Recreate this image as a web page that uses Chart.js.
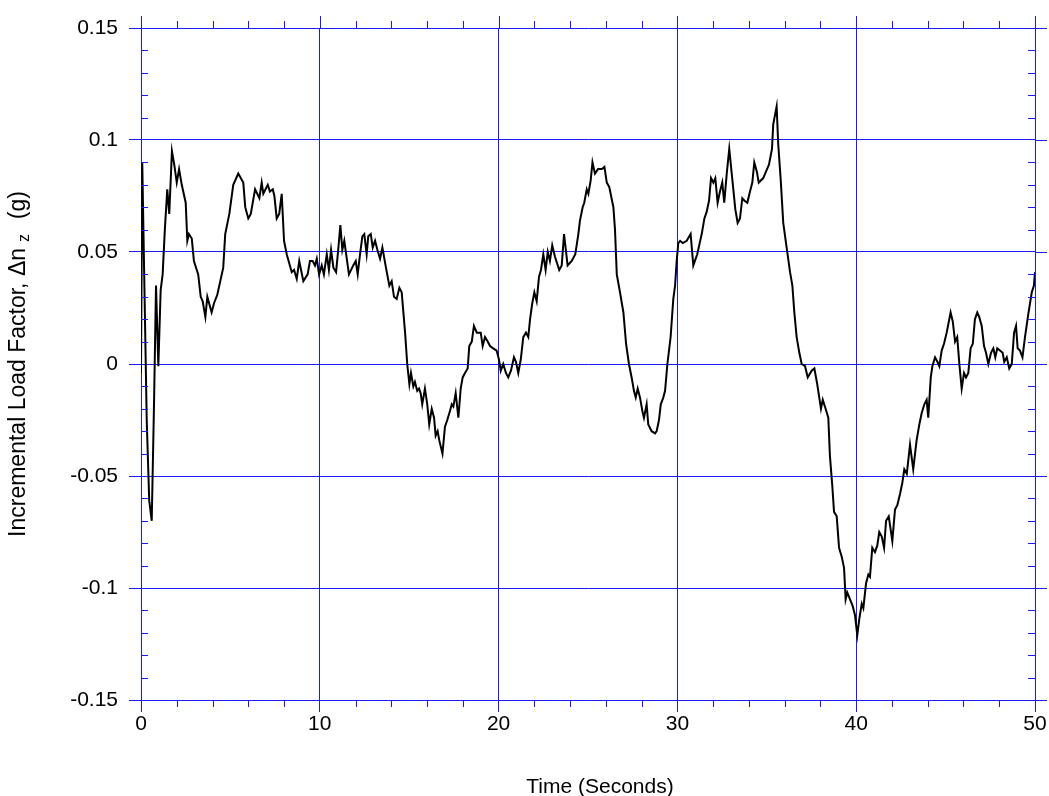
<!DOCTYPE html>
<html>
<head>
<meta charset="utf-8">
<title>Incremental Load Factor vs Time</title>
<script src="https://cdn.jsdelivr.net/npm/chart.js@4.4.1/dist/chart.umd.min.js"></script>
<style>
  html, body { margin: 0; padding: 0; background: #fff; }
  #wrap { width: 1049px; height: 796px; }
</style>
</head>
<body>
<div id="wrap"><canvas id="chart" width="1049" height="796"></canvas></div>
<script>
// Time samples (s) and incremental load factor (g)
const times = [
  0.00, 0.07, 0.32, 0.46, 0.60, 0.73, 0.84, 0.97, 1.10, 1.21, 1.34, 1.47, 1.58, 1.73, 1.86, 2.00,
  2.13, 2.28, 2.50, 2.59, 2.68, 2.84, 2.96, 3.20, 3.34, 3.45, 3.60, 3.71, 3.95, 4.08, 4.27, 4.60,
  4.71, 4.94, 5.16, 5.44, 5.72, 5.83, 6.00, 6.14, 6.38, 6.62, 6.75, 6.84, 7.09, 7.21, 7.37, 7.46,
  7.59, 7.73, 7.87, 8.00, 8.15, 8.29, 8.43, 8.56, 8.71, 8.85, 9.08, 9.32, 9.45, 9.60, 9.73, 9.83,
  9.96, 10.11, 10.23, 10.39, 10.51, 10.63, 10.76, 10.91, 11.03, 11.15, 11.26, 11.37, 11.63, 11.87,
  12.01, 12.12, 12.25, 12.38, 12.49, 12.62, 12.71, 12.85, 12.96, 13.09, 13.22, 13.37, 13.50, 13.70,
  13.89, 14.02, 14.15, 14.30, 14.45, 14.58, 14.77, 14.89, 15.01, 15.10, 15.23, 15.32, 15.45, 15.55,
  15.64, 15.73, 15.88, 16.01, 16.12, 16.26, 16.39, 16.48, 16.59, 16.68, 16.86, 17.00, 17.13, 17.28,
  17.38, 17.47, 17.60, 17.75, 17.88, 17.99, 18.12, 18.27, 18.36, 18.50, 18.62, 18.78, 18.90, 19.00,
  19.11, 19.24, 19.39, 19.52, 19.70, 19.89, 20.02, 20.12, 20.26, 20.41, 20.54, 20.69, 20.86, 20.97,
  21.10, 21.24, 21.38, 21.53, 21.66, 21.76, 21.88, 22.00, 22.13, 22.26, 22.37, 22.50, 22.63, 22.75,
  22.87, 23.00, 23.15, 23.39, 23.53, 23.66, 23.86, 24.09, 24.29, 24.46, 24.55, 24.70, 24.79, 24.93,
  25.02, 25.15, 25.25, 25.39, 25.56, 25.78, 25.92, 26.05, 26.19, 26.42, 26.51, 26.61, 26.79, 26.98,
  27.13, 27.29, 27.44, 27.57, 27.67, 27.78, 27.91, 28.04, 28.13, 28.28, 28.37, 28.56, 28.75, 28.84,
  28.97, 29.07, 29.21, 29.31, 29.44, 29.62, 29.77, 29.87, 29.96, 30.05, 30.15, 30.30, 30.52, 30.74,
  30.89, 31.11, 31.36, 31.51, 31.64, 31.77, 31.88, 32.01, 32.12, 32.25, 32.38, 32.51, 32.62, 32.76,
  32.90, 33.09, 33.24, 33.37, 33.50, 33.63, 33.74, 33.91, 34.06, 34.19, 34.30, 34.44, 34.55, 34.80,
  34.96, 35.12, 35.29, 35.36, 35.55, 35.64, 35.78, 35.92, 36.11, 36.30, 36.43, 36.54, 36.67, 36.82,
  36.95, 37.14, 37.29, 37.51, 37.66, 37.82, 38.03, 38.13, 38.29, 38.44, 38.53, 38.66, 38.76, 38.91,
  39.04, 39.19, 39.32, 39.41, 39.50, 39.65, 39.80, 39.93, 40.06, 40.17, 40.31, 40.40, 40.55, 40.68,
  40.77, 40.90, 41.05, 41.18, 41.29, 41.43, 41.56, 41.67, 41.82, 42.02, 42.17, 42.30, 42.45, 42.58,
  42.69, 42.83, 43.01, 43.19, 43.38, 43.53, 43.66, 43.81, 43.94, 44.03, 44.17, 44.26, 44.41, 44.54,
  44.65, 44.78, 44.91, 45.06, 45.28, 45.40, 45.53, 45.65, 45.77, 45.90, 46.03, 46.14, 46.27, 46.40,
  46.52, 46.64, 46.77, 46.88, 47.02, 47.15, 47.26, 47.39, 47.54, 47.67, 47.78, 47.89, 48.04, 48.19,
  48.28, 48.42, 48.56, 48.70, 48.83, 48.94, 49.03, 49.16, 49.30, 49.44, 49.62, 49.82, 49.94, 50.00
];

const loadFactor = [
  -0.004, 0.090, -0.025, -0.061, -0.070, -0.017, 0.035, -0.001, 0.033, 0.040, 0.061, 0.078, 0.067, 0.095, 0.089, 0.081,
  0.087, 0.080, 0.072, 0.055, 0.058, 0.056, 0.046, 0.040, 0.030, 0.028, 0.021, 0.030, 0.023, 0.027, 0.031, 0.043,
  0.058, 0.067, 0.080, 0.085, 0.081, 0.070, 0.065, 0.067, 0.078, 0.074, 0.081, 0.076, 0.080, 0.077, 0.078, 0.075,
  0.065, 0.067, 0.076, 0.055, 0.049, 0.045, 0.041, 0.042, 0.038, 0.046, 0.037, 0.040, 0.046, 0.046, 0.044, 0.047,
  0.040, 0.044, 0.040, 0.049, 0.042, 0.051, 0.043, 0.041, 0.051, 0.062, 0.051, 0.055, 0.040, 0.044,
  0.046, 0.040, 0.049, 0.057, 0.058, 0.049, 0.057, 0.058, 0.052, 0.055, 0.051, 0.047, 0.052, 0.043,
  0.035, 0.037, 0.030, 0.029, 0.034, 0.032, 0.014, 0.000, -0.009, -0.004, -0.010, -0.008, -0.012, -0.011,
  -0.013, -0.018, -0.011, -0.018, -0.027, -0.020, -0.024, -0.032, -0.030, -0.034, -0.040, -0.028, -0.025, -0.021,
  -0.018, -0.019, -0.013, -0.024, -0.011, -0.006, -0.004, -0.002, 0.008, 0.010, 0.017, 0.014, 0.014, 0.014,
  0.008, 0.012, 0.010, 0.008, 0.007, 0.006, 0.002, -0.003, 0.000, -0.004, -0.006, -0.003, 0.003, 0.001,
  -0.004, 0.002, 0.012, 0.014, 0.012, 0.020, 0.027, 0.032, 0.028, 0.039, 0.042, 0.049, 0.042, 0.050,
  0.046, 0.053, 0.048, 0.042, 0.044, 0.058, 0.044, 0.046, 0.049, 0.058, 0.064, 0.070, 0.072, 0.078,
  0.076, 0.082, 0.090, 0.085, 0.087, 0.087, 0.088, 0.081, 0.079, 0.070, 0.060, 0.040, 0.032, 0.023,
  0.009, 0.000, -0.006, -0.012, -0.015, -0.011, -0.015, -0.021, -0.024, -0.018, -0.027, -0.030, -0.031, -0.030,
  -0.025, -0.018, -0.015, -0.012, 0.000, 0.012, 0.029, 0.035, 0.046, 0.054, 0.055, 0.054, 0.055, 0.058,
  0.044, 0.049, 0.058, 0.065, 0.068, 0.073, 0.083, 0.081, 0.083, 0.072, 0.077, 0.081, 0.072, 0.085,
  0.096, 0.081, 0.069, 0.063, 0.065, 0.074, 0.073, 0.072, 0.077, 0.081, 0.090, 0.086, 0.081, 0.083,
  0.086, 0.089, 0.096, 0.107, 0.115, 0.098, 0.082, 0.063, 0.052, 0.041, 0.035, 0.023, 0.012, 0.005,
  0.000, -0.001, -0.006, -0.003, -0.002, -0.009, -0.020, -0.016, -0.020, -0.024, -0.041, -0.054, -0.066, -0.068,
  -0.082, -0.086, -0.091, -0.105, -0.102, -0.105, -0.108, -0.112, -0.121, -0.114, -0.107, -0.109, -0.098, -0.094,
  -0.095, -0.082, -0.084, -0.081, -0.075, -0.077, -0.082, -0.070, -0.068, -0.079, -0.065, -0.063, -0.058, -0.053,
  -0.047, -0.049, -0.036, -0.047, -0.034, -0.027, -0.022, -0.018, -0.016, -0.024, -0.006, -0.001, 0.003, 0.001,
  -0.001, 0.006, 0.009, 0.014, 0.023, 0.019, 0.010, 0.012, 0.000, -0.011, -0.004, -0.006, -0.004, 0.007,
  0.009, 0.020, 0.023, 0.021, 0.017, 0.008, 0.005, 0.000, 0.005, 0.007, 0.003, 0.007, 0.006, 0.005,
  0.001, 0.003, -0.002, 0.000, 0.014, 0.017, 0.007, 0.006, 0.003, 0.012, 0.022, 0.032, 0.035, 0.041
];

// Axis ranges and tick spacing
const xRange = [0, 50];
const yRange = [-0.15, 0.15];
const xMajorStep = 10, xMinorStep = 2;
const yMajorStep = 0.05, yMinorStep = 0.01;

const xTitle = 'Time (Seconds)';
const yTitleMain = 'Incremental Load Factor, \u0394n';
const yTitleSub = 'z';
const yTitleTail = '  (g)';

const AXIS_BLUE = 'rgb(28,28,245)';
const FONT = '"Liberation Sans", Arial, Helvetica, sans-serif';

const isMajorX = v => Math.abs(Math.round(v / xMinorStep) * xMinorStep) % xMajorStep === 0;
const isMajorY = v => Math.round(v / yMinorStep) % Math.round(yMajorStep / yMinorStep) === 0;

// Minor ticks, outer tick extensions on top/right, and axis titles
const axisDecor = {
  id: 'axisDecor',
  afterDraw(chart) {
    const ctx = chart.ctx;
    const xs = chart.scales.x, ys = chart.scales.y;
    const a = chart.chartArea;
    ctx.save();
    ctx.strokeStyle = AXIS_BLUE;
    ctx.lineWidth = 1;
    ctx.beginPath();
    // x: minor ticks point outward (below bottom, above top); majors extend above top
    for (let v = xRange[0]; v <= xRange[1] + 1e-9; v += xMinorStep) {
      const px = Math.round(xs.getPixelForValue(v)) + 0.5;
      if (isMajorX(v)) {
        ctx.moveTo(px, a.top - 12); ctx.lineTo(px, a.top);
      } else {
        ctx.moveTo(px, a.bottom); ctx.lineTo(px, a.bottom + 7);
        ctx.moveTo(px, a.top - 7); ctx.lineTo(px, a.top);
      }
    }
    // y: minor ticks point inward from both sides; majors extend past the right edge
    const n = Math.round((yRange[1] - yRange[0]) / yMinorStep);
    for (let i = 0; i <= n; i++) {
      const v = yRange[0] + i * yMinorStep;
      const py = Math.round(ys.getPixelForValue(v)) + 0.5;
      if (isMajorY(v)) {
        ctx.moveTo(a.right, py); ctx.lineTo(a.right + 12, py);
      } else {
        ctx.moveTo(a.left, py); ctx.lineTo(a.left + 7, py);
        ctx.moveTo(a.right - 7, py); ctx.lineTo(a.right, py);
      }
    }
    ctx.stroke();

    // axis titles
    ctx.fillStyle = '#000';
    ctx.textBaseline = 'middle';
    ctx.textAlign = 'center';
    ctx.font = '21px ' + FONT;
    ctx.fillText(xTitle, 600, 787);

    ctx.translate(19, (a.top + a.bottom) / 2);
    ctx.rotate(-Math.PI / 2);
    ctx.textAlign = 'left';
    const mainFont = '23px ' + FONT, subFont = '16px ' + FONT;
    ctx.font = mainFont;
    const w1 = ctx.measureText(yTitleMain).width;
    const w3 = ctx.measureText(yTitleTail).width;
    ctx.font = subFont;
    const w2 = ctx.measureText(yTitleSub).width + 8;
    let x0 = -(w1 + w2 + w3) / 2;
    ctx.font = mainFont;
    ctx.fillText(yTitleMain, x0, 0);
    ctx.font = subFont;
    ctx.fillText(yTitleSub, x0 + w1 + 6, 6);
    ctx.font = mainFont;
    ctx.fillText(yTitleTail, x0 + w1 + w2, 0);
    ctx.restore();
  }
};

const points = times.map((t, i) => ({ x: t, y: loadFactor[i] }));

new Chart(document.getElementById('chart'), {
  type: 'line',
  data: {
    datasets: [{
      data: points,
      borderColor: '#000',
      borderWidth: 2,
      pointRadius: 0,
      tension: 0,
      fill: false
    }]
  },
  options: {
    responsive: false,
    animation: false,
    devicePixelRatio: 1,
    layout: { padding: { top: 28, right: 14, left: 0, bottom: 0 } },
    plugins: { legend: { display: false }, tooltip: { enabled: false } },
    scales: {
      x: {
        type: 'linear',
        min: xRange[0], max: xRange[1],
        afterFit(scale) { scale.height = 96; },
        border: { display: true, color: AXIS_BLUE, width: 1 },
        grid: {
          color: c => isMajorX(c.tick.value) ? AXIS_BLUE : 'rgba(0,0,0,0)',
          tickColor: c => isMajorX(c.tick.value) ? AXIS_BLUE : 'rgba(0,0,0,0)',
          tickLength: 12,
          lineWidth: 1
        },
        ticks: {
          stepSize: xMinorStep,
          autoSkip: false,
          maxRotation: 0,
          padding: 0,
          color: '#000',
          font: { family: FONT, size: 21 },
          callback: v => isMajorX(v) ? String(v) : ''
        }
      },
      y: {
        min: yRange[0], max: yRange[1],
        afterFit(scale) { scale.width = 141; },
        border: { display: true, color: AXIS_BLUE, width: 1 },
        grid: {
          color: c => isMajorY(c.tick.value) ? AXIS_BLUE : 'rgba(0,0,0,0)',
          tickColor: c => isMajorY(c.tick.value) ? AXIS_BLUE : 'rgba(0,0,0,0)',
          tickLength: 12,
          lineWidth: 1
        },
        ticks: {
          stepSize: yMinorStep,
          autoSkip: false,
          padding: 11,
          color: '#000',
          font: { family: FONT, size: 21 },
          callback: v => isMajorY(v) ? String(Math.round(v * 100) / 100) : ''
        }
      }
    }
  },
  plugins: [axisDecor]
});
</script>
</body>
</html>
